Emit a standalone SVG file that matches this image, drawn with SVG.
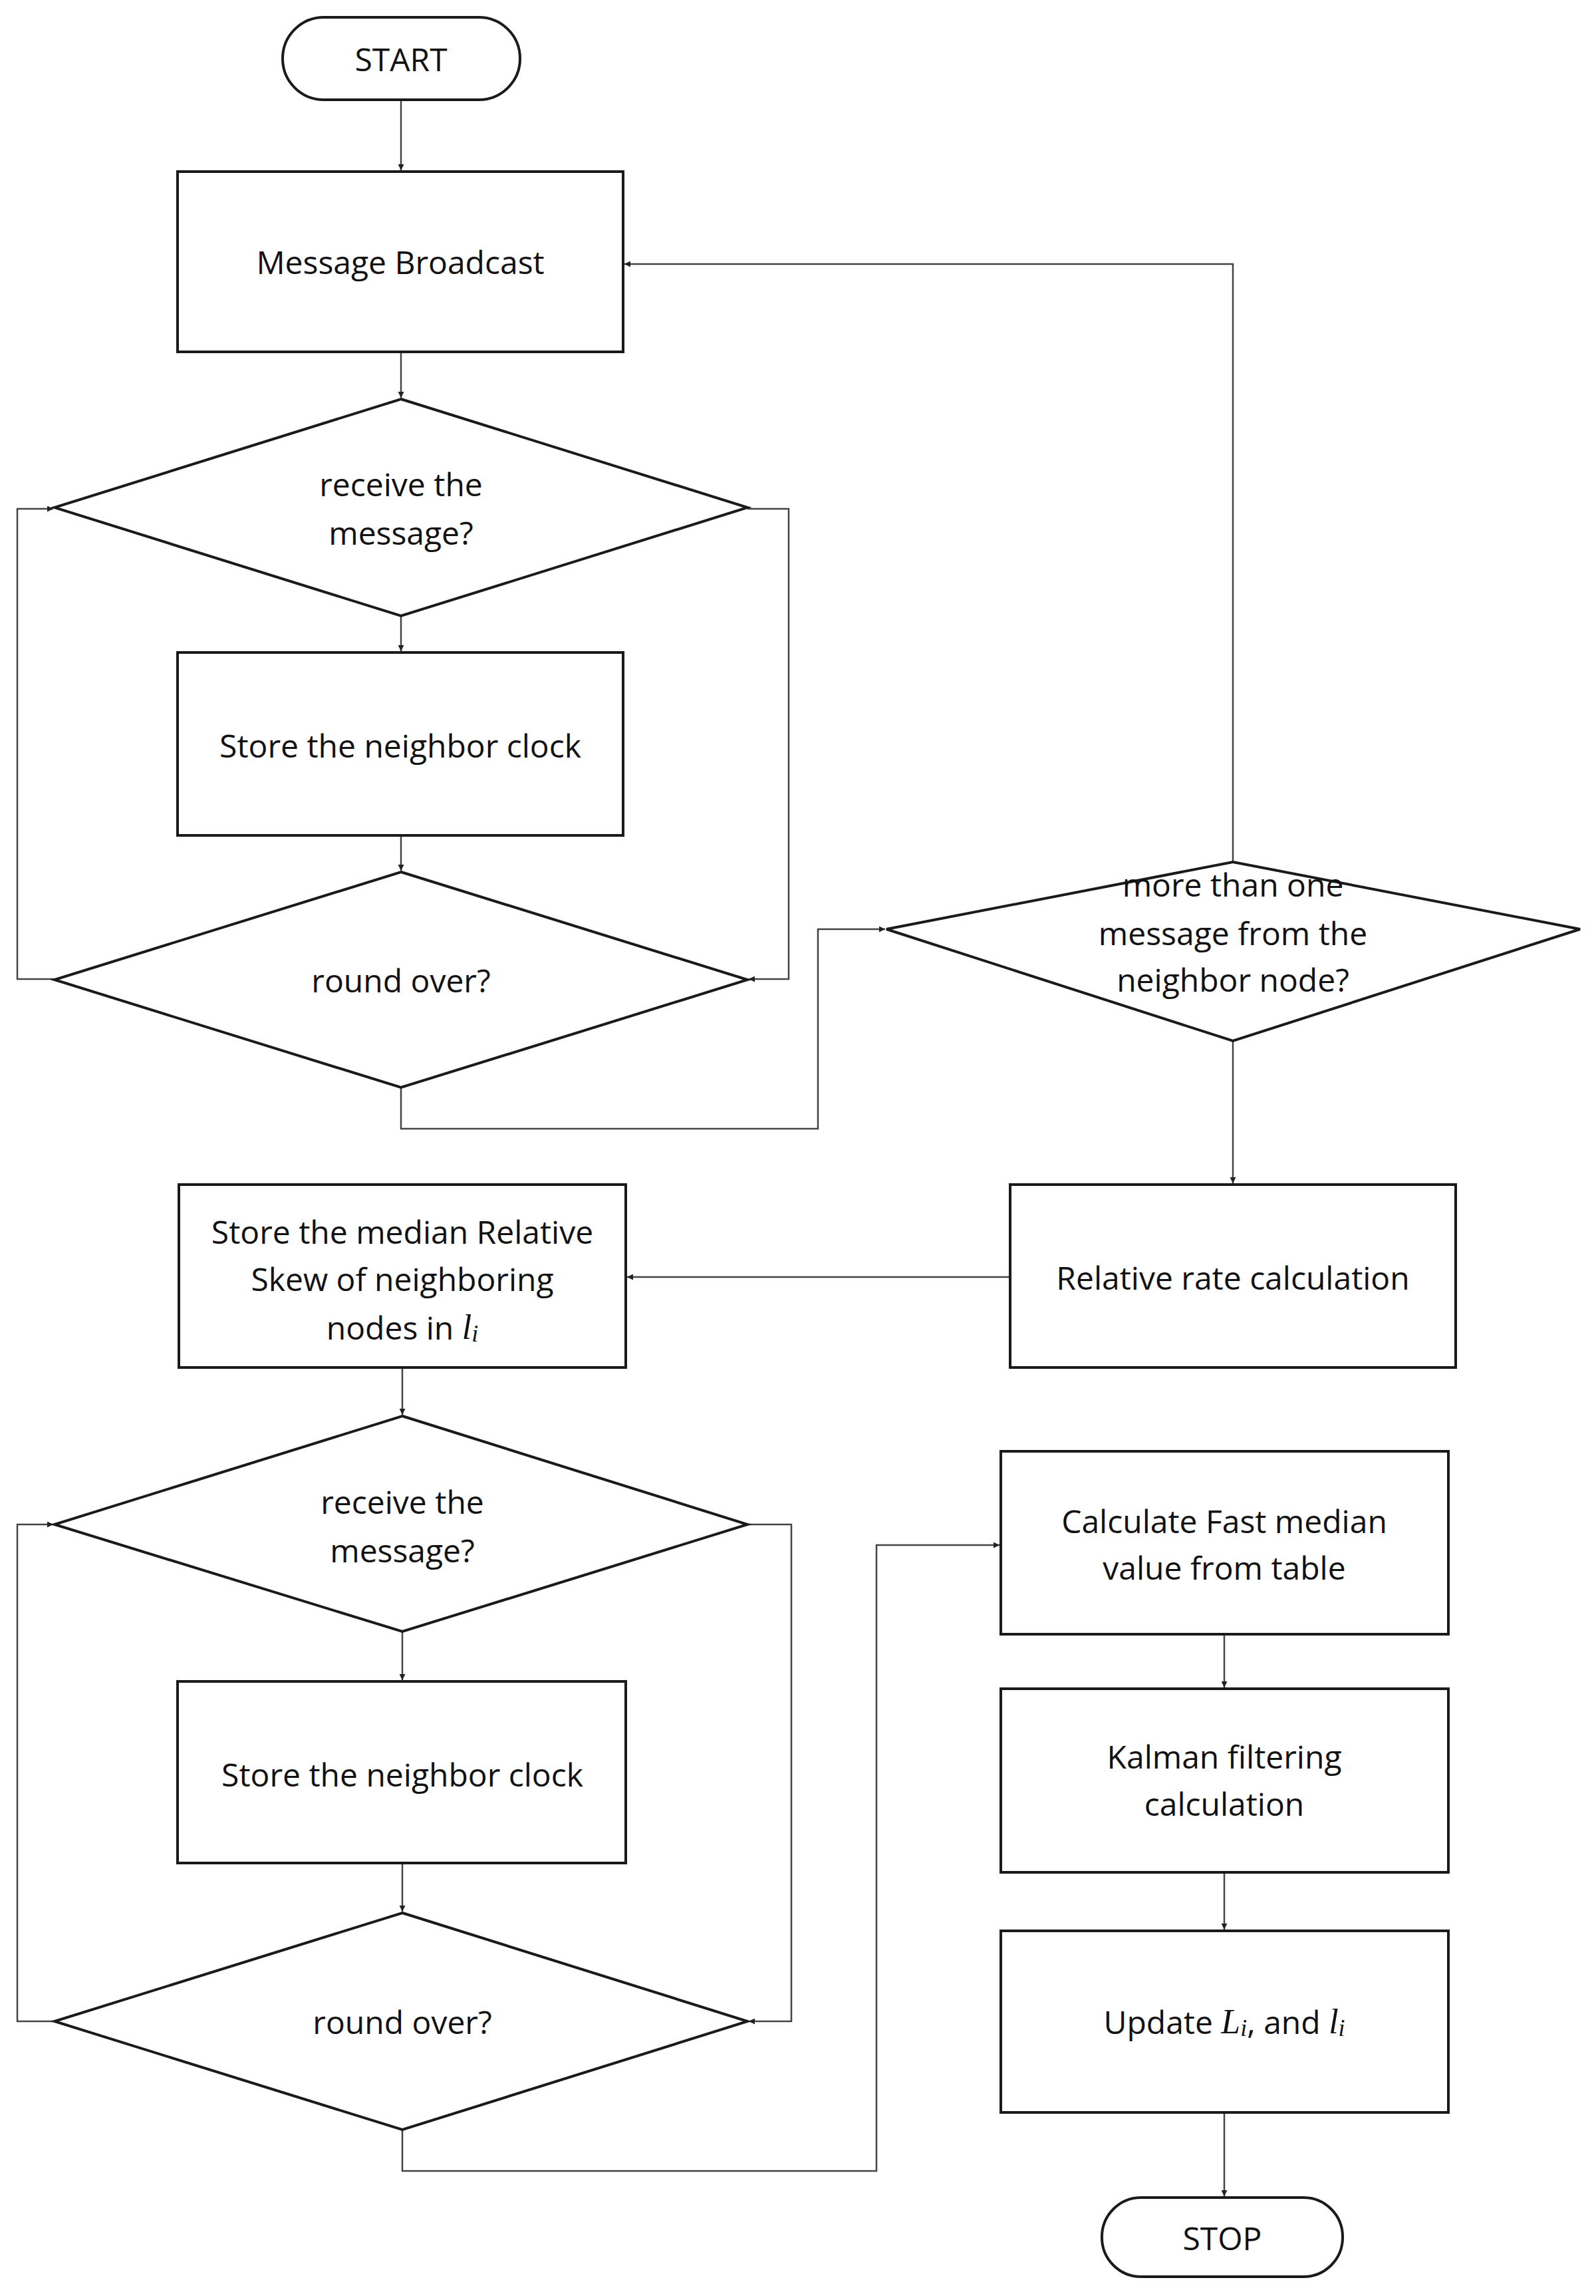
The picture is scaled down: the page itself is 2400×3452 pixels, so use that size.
<svg xmlns="http://www.w3.org/2000/svg" width="2400" height="3452" viewBox="0 0 2400 3452">
<style>
.n{fill:#fff;stroke:#1a1a1a;stroke-width:4}
.t{font-family:"Open Sans","Noto Sans",sans-serif;font-size:48px;fill:#111;text-anchor:middle;dominant-baseline:central}
.m{font-family:"Liberation Serif",serif;font-style:italic}
.c{fill:none;stroke:#444;stroke-width:2.5}
</style>
<defs><marker id="a" viewBox="0 0 10 10" refX="10" refY="5" markerWidth="9" markerHeight="9" markerUnits="userSpaceOnUse" orient="auto"><path d="M0,0L10,5L0,10z" fill="#222"/></marker></defs>
<rect width="2400" height="3452" fill="#fff"/>
<g id="connectors">
<path class="c" d="M603,150V256" marker-end="url(#a)"/>
<path class="c" d="M603,529V598" marker-end="url(#a)"/>
<path class="c" d="M603,926V979" marker-end="url(#a)"/>
<path class="c" d="M603,1256V1309" marker-end="url(#a)"/>
<path class="c" d="M82,1472H26V765H80" marker-end="url(#a)"/>
<path class="c" d="M1124,765H1186V1472H1126" marker-end="url(#a)"/>
<path class="c" d="M603,1635V1697H1230V1397H1331" marker-end="url(#a)"/>
<path class="c" d="M1854,1296V397H939" marker-end="url(#a)"/>
<path class="c" d="M1854,1565V1779" marker-end="url(#a)"/>
<path class="c" d="M1519,1920H943" marker-end="url(#a)"/>
<path class="c" d="M605,2056V2127" marker-end="url(#a)"/>
<path class="c" d="M605,2453V2526" marker-end="url(#a)"/>
<path class="c" d="M605,2801V2874" marker-end="url(#a)"/>
<path class="c" d="M82,3039H26V2292H80" marker-end="url(#a)"/>
<path class="c" d="M1124,2292H1190V3039H1126" marker-end="url(#a)"/>
<path class="c" d="M605,3202V3264H1318V2323H1503" marker-end="url(#a)"/>
<path class="c" d="M1841,2457V2537" marker-end="url(#a)"/>
<path class="c" d="M1841,2815V2901" marker-end="url(#a)"/>
<path class="c" d="M1841,3176V3302" marker-end="url(#a)"/>
</g>
<g id="start"><rect class="n" x="425" y="26" width="357" height="124" rx="62"/><text class="t" x="603" y="88">START</text></g>
<g id="broadcast"><rect class="n" x="267" y="258" width="670" height="271"/><text class="t" x="602" y="393">Message Broadcast</text></g>
<g id="recv1"><polygon class="n" points="603,600 1124,763 603,926 82,763"/><text class="t" x="603" y="727">receive the</text><text class="t" x="603" y="800">message?</text></g>
<g id="store1"><rect class="n" x="267" y="981" width="670" height="275"/><text class="t" x="602" y="1120">Store the neighbor clock</text></g>
<g id="round1"><polygon class="n" points="603,1311 1124,1473 603,1635 82,1473"/><text class="t" x="603" y="1473">round over?</text></g>
<g id="more"><polygon class="n" points="1854,1296 2376,1397 1854,1565 1333,1397"/><text class="t" x="1854" y="1329">more than one</text><text class="t" x="1854" y="1402">message from the</text><text class="t" x="1854" y="1472">neighbor node?</text></g>
<g id="relrate"><rect class="n" x="1519" y="1781" width="670" height="275"/><text class="t" x="1854" y="1920">Relative rate calculation</text></g>
<g id="median"><rect class="n" x="269" y="1781" width="672" height="275"/><text class="t" x="605" y="1851">Store the median Relative</text><text class="t" x="605" y="1922">Skew of neighboring</text><text class="t" x="605" y="1995">nodes in <tspan class="m" font-size="52">l</tspan><tspan class="m" font-size="36" dy="10">i</tspan></text></g>
<g id="recv2"><polygon class="n" points="605,2129 1124,2292 605,2453 82,2292"/><text class="t" x="605" y="2257">receive the</text><text class="t" x="605" y="2330">message?</text></g>
<g id="store2"><rect class="n" x="267" y="2528" width="674" height="273"/><text class="t" x="605" y="2667">Store the neighbor clock</text></g>
<g id="round2"><polygon class="n" points="605,2876 1124,3039 605,3202 82,3039"/><text class="t" x="605" y="3039">round over?</text></g>
<g id="fast"><rect class="n" x="1505" y="2182" width="673" height="275"/><text class="t" x="1841" y="2286">Calculate Fast median</text><text class="t" x="1841" y="2356">value from table</text></g>
<g id="kalman"><rect class="n" x="1505" y="2539" width="673" height="276"/><text class="t" x="1841" y="2640">Kalman filtering</text><text class="t" x="1841" y="2711">calculation</text></g>
<g id="update"><rect class="n" x="1505" y="2903" width="673" height="273"/><text class="t" x="1841" y="3039">Update <tspan class="m" font-size="52">L</tspan><tspan class="m" font-size="36" dy="10">i</tspan><tspan dy="-10">, and </tspan><tspan class="m" font-size="52">l</tspan><tspan class="m" font-size="36" dy="10">i</tspan></text></g>
<g id="stop"><rect class="n" x="1657" y="3304" width="362" height="119" rx="59"/><text class="t" x="1838" y="3364">STOP</text></g>
</svg>
